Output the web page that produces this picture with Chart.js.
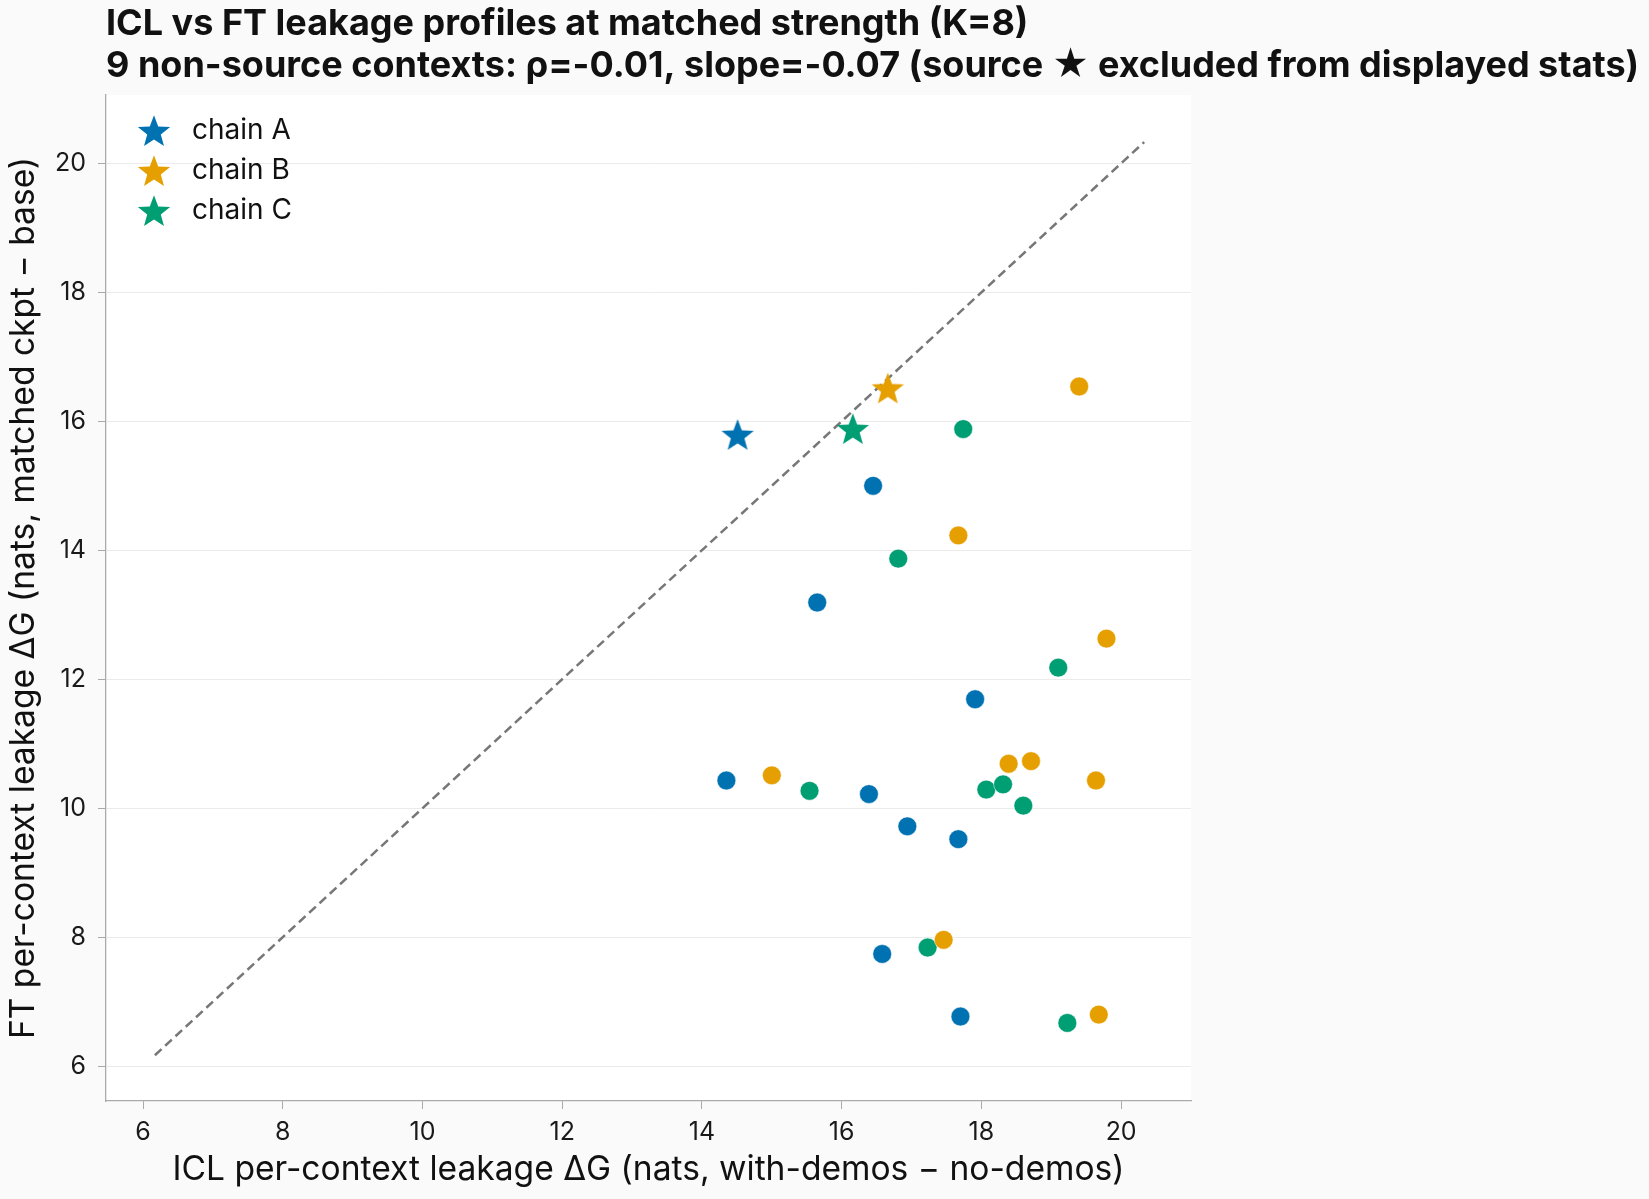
<!DOCTYPE html>
<html>
<head>
<meta charset="utf-8">
<script src="https://cdn.jsdelivr.net/npm/chart.js@4.4.1/dist/chart.umd.min.js"></script>
<style>
  html, body { margin: 0; padding: 0; background: #fafafa; }
  #wrap { width: 1649px; height: 1199px; }
</style>
</head>
<body>
<div id="wrap"><canvas id="chart" width="1649" height="1199"></canvas></div>
<script>
/* ----------------------------------------------------------
   Data
   ---------------------------------------------------------- */
const chainNames = ['chain A', 'chain B', 'chain C'];

const chainA_x = [16.45, 15.65, 17.91, 14.35, 16.39, 16.94, 17.67, 16.58, 17.70];
const chainA_y = [15.00, 13.19, 11.69, 10.43, 10.22, 9.72, 9.52, 7.74, 6.77];

const chainB_x = [19.40, 17.67, 19.79, 15.00, 18.39, 18.71, 19.64, 17.46, 19.68];
const chainB_y = [16.54, 14.23, 12.63, 10.51, 10.69, 10.73, 10.43, 7.96, 6.80];

const chainC_x = [17.74, 16.81, 19.10, 15.54, 18.07, 18.31, 18.60, 17.23, 19.23];
const chainC_y = [15.88, 13.87, 12.18, 10.27, 10.29, 10.37, 10.04, 7.84, 6.67];

// source context (star) for each chain
const source_x = [14.51, 16.66, 16.16];
const source_y = [15.79, 16.51, 15.88];

// y = x reference line
const diag = [6.17, 20.33];

const xTicks = [6, 8, 10, 12, 14, 16, 18, 20];
const yTicks = [6, 8, 10, 12, 14, 16, 18, 20];

const titleLines = [
  'ICL vs FT leakage profiles at matched strength (K=8)',
  '9 non-source contexts: ρ=-0.01, slope=-0.07 (source ★ excluded from displayed stats)',
];
const xTitle = 'ICL per-context leakage ΔG (nats, with-demos − no-demos)';
const yTitle = 'FT per-context leakage ΔG (nats, matched ckpt − base)';

/* ----------------------------------------------------------
   Style
   ---------------------------------------------------------- */
const COLORS = ['#0072B2', '#E69F00', '#009E73'];
const FONT = "Inter, 'DejaVu Sans', sans-serif";

function makeStar(color, r) {
  const size = Math.ceil(r * 2 + 4);
  const c = document.createElement('canvas');
  c.width = size; c.height = size;
  const g = c.getContext('2d');
  const cx = size / 2, cy = size / 2 + r * 0.08;
  const inner = r * 0.42;
  g.beginPath();
  for (let i = 0; i < 10; i++) {
    const rad = i % 2 === 0 ? r : inner;
    const a = -Math.PI / 2 + i * Math.PI / 5;
    const px = cx + rad * Math.cos(a), py = cy + rad * Math.sin(a);
    i === 0 ? g.moveTo(px, py) : g.lineTo(px, py);
  }
  g.closePath();
  g.fillStyle = color;
  g.fill();
  return c;
}

const stars = COLORS.map(c => makeStar(c, 17));
const legendStars = COLORS.map(c => makeStar(c, 17));

function pts(xs, ys) { return xs.map((x, i) => ({ x, y: ys[i] })); }

const chainX = [chainA_x, chainB_x, chainC_x];
const chainY = [chainA_y, chainB_y, chainC_y];

const datasets = [];
chainNames.forEach((name, i) => {
  datasets.push({
    label: name + ' contexts',
    data: pts(chainX[i], chainY[i]),
    backgroundColor: COLORS[i],
    borderColor: '#ffffff',
    borderWidth: 0.5,
    pointRadius: 9.4,
    order: 2,
  });
});
chainNames.forEach((name, i) => {
  datasets.push({
    label: name,
    data: [{ x: source_x[i], y: source_y[i] }],
    pointStyle: stars[i],
    backgroundColor: COLORS[i],
    order: 1,
  });
});
datasets.push({
  label: 'y = x',
  type: 'line',
  data: pts(diag, diag),
  borderColor: '#777777',
  borderWidth: 2.5,
  borderDash: [9, 5],
  pointRadius: 0,
  fill: false,
  order: 10,
});

/* ----------------------------------------------------------
   Plugins: backgrounds, title, axis titles, legend
   ---------------------------------------------------------- */
const decor = {
  id: 'decor',
  beforeDraw(chart) {
    const { ctx, chartArea: a } = chart;
    ctx.save();
    ctx.fillStyle = '#fafafa';
    ctx.fillRect(0, 0, chart.width, chart.height);
    ctx.fillStyle = '#ffffff';
    ctx.fillRect(a.left, a.top, a.right - a.left, a.bottom - a.top);
    ctx.restore();
  },
  afterDraw(chart) {
    const { ctx, chartArea: a } = chart;
    ctx.save();
    ctx.fillStyle = '#111111';
    ctx.textBaseline = 'middle';
    ctx.textAlign = 'left';
    ctx.font = `bold 36px ${FONT}`;
    ctx.fillText(titleLines[0], a.left, 24);
    ctx.fillText(titleLines[1], a.left, 66);

    ctx.font = `33.6px ${FONT}`;
    ctx.textAlign = 'center';
    ctx.fillText(xTitle, (a.left + a.right) / 2, 1170);
    ctx.translate(24, (a.top + a.bottom) / 2);
    ctx.rotate(-Math.PI / 2);
    ctx.fillText(yTitle, 0, 0);
    ctx.restore();

    // legend inside the plot
    ctx.save();
    ctx.font = `28px ${FONT}`;
    ctx.fillStyle = '#111111';
    ctx.textBaseline = 'middle';
    chainNames.forEach((name, i) => {
      const y = a.top + 36 + i * 40;
      const s = legendStars[i];
      ctx.drawImage(s, a.left + 48 - s.width / 2, y - s.height / 2);
      ctx.fillText(name, a.left + 86, y);
    });
    ctx.restore();
  },
};

const fixTicks = vals => scale => { scale.ticks = vals.map(v => ({ value: v })); };

new Chart(document.getElementById('chart'), {
  type: 'scatter',
  data: { datasets },
  options: {
    responsive: false,
    animation: false,
    layout: { padding: { top: 95, right: 458, left: 0, bottom: 0 } },
    plugins: { legend: { display: false }, tooltip: { enabled: false }, title: { display: false } },
    scales: {
      x: {
        type: 'linear',
        min: 5.47, max: 21.0,
        afterBuildTicks: fixTicks(xTicks),
        afterFit(scale) { scale.height = 98; },
        grid: { drawOnChartArea: false, tickLength: 8, tickColor: '#aaaaaa' },
        border: { color: '#aaaaaa', width: 1.3 },
        ticks: { color: '#1a1a1a', font: { family: FONT, size: 25 }, padding: 8, maxRotation: 0 },
      },
      y: {
        type: 'linear',
        min: 5.46, max: 21.06,
        afterBuildTicks: fixTicks(yTicks),
        afterFit(scale) { scale.width = 106; },
        grid: { color: '#ebebeb', lineWidth: 1, tickLength: 8, tickColor: '#aaaaaa' },
        border: { color: '#aaaaaa', width: 1.3 },
        ticks: { color: '#1a1a1a', font: { family: FONT, size: 25 }, padding: 12 },
      },
    },
  },
  plugins: [decor],
});
</script>
</body>
</html>
